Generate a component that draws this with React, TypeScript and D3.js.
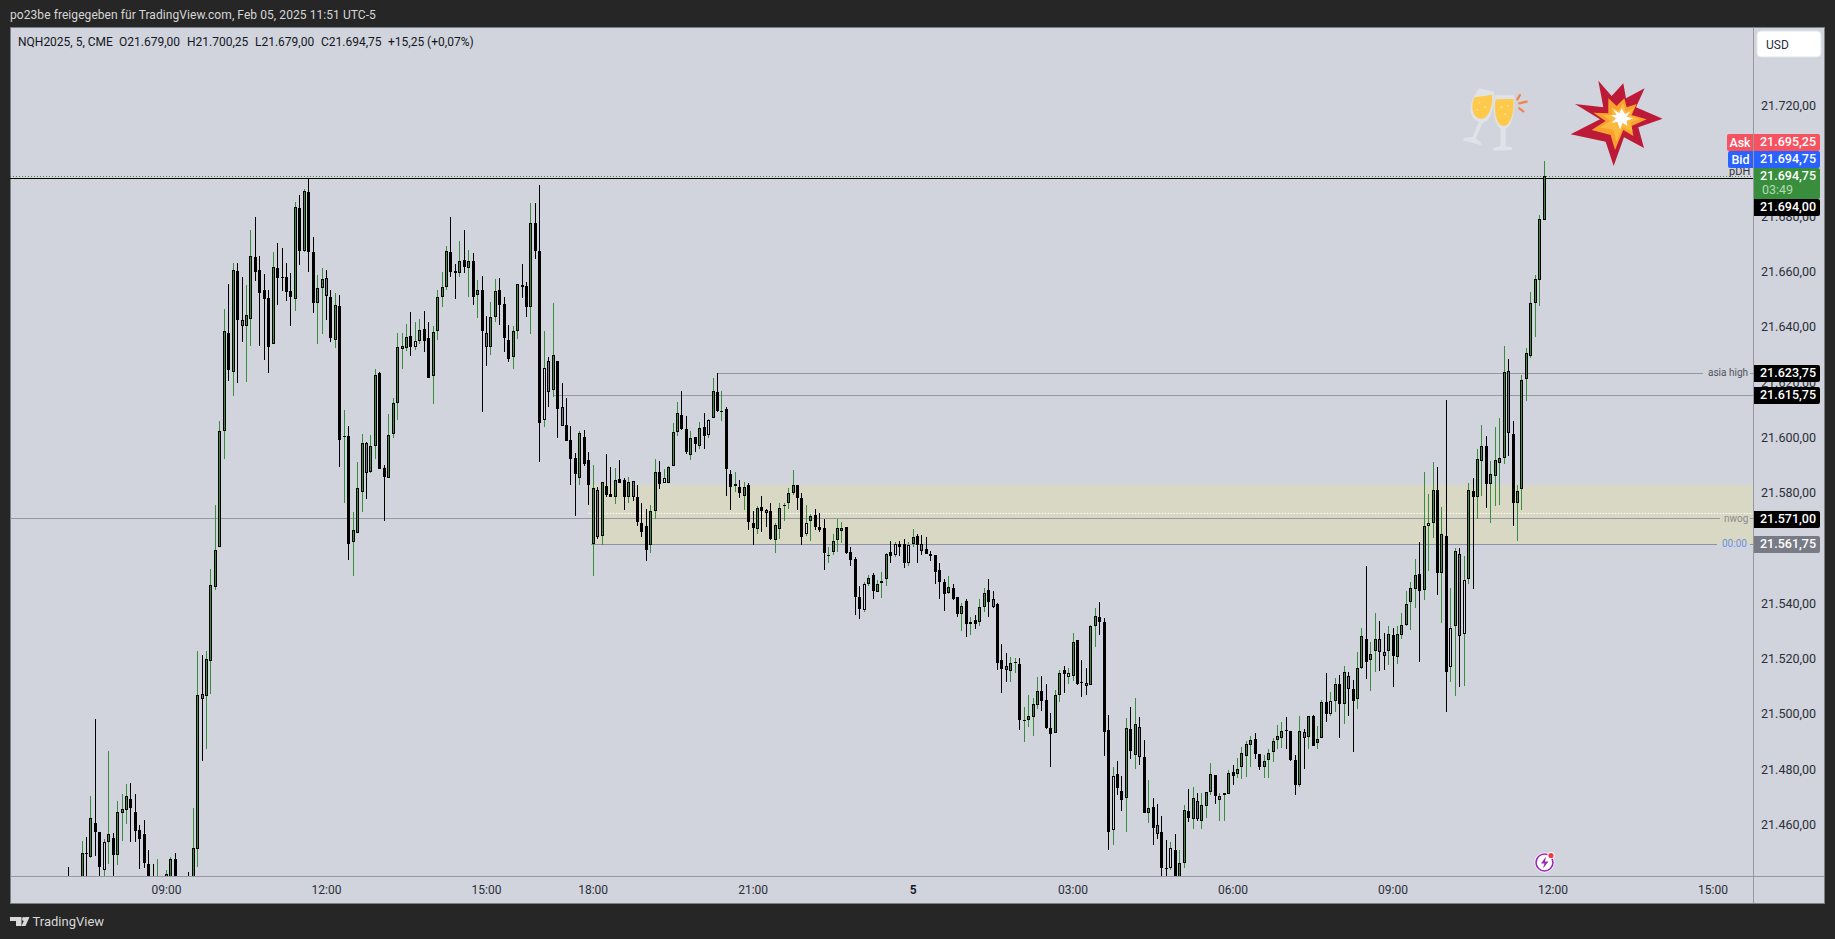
import * as d3 from 'd3';

const WIDTH = 1835;
const HEIGHT = 939;
const PANE = { left: 10, top: 27, right: 1824, bottom: 903, axisX: 1753, axisY: 876 };

const FONT = 'Roboto, "Noto Sans", sans-serif';
const UP = '#388e3c';
const DOWN = '#000000';
const GRAY_BODY = '#787b86';
const BG = '#d1d4dc';
const FRAME = '#262626';
const LEVEL = '#9598a1';

// Prices are points above this base as [open, high, low, close]
const PRICE_BASE = 21000;
const FIRST_BAR = -22; // bars are counted from the 09:00 label, 5 min each

type Bar = number[];

const barsBefore0900: Bar[] = [
  [440,444.9,434,437],[438,441,435,437],[437,440,434,439],[440,454.4,438,449.9],[450,455.8,438,449.75],
  [448.4,470.6,448,462.6],[460.8,498.4,449,457.4],[457.5,457.5,440,445],[443.7,455.1,440,453.9],[454.1,486.9,446,456.8],
  [455.3,457.3,440,449.4],[449.4,468.8,445.7,464.7],[464.6,471.2,454.4,465.8],[465.7,474.9,460.5,470.5],[469.4,475.2,453.8,466.4],
  [464.7,471.2,453.8,458.1],[458.2,460.2,444.3,455.2],[456.8,461.8,444.6,446.2],[446,451,438,440],[440,445.9,436,438],
  [436,447.8,435,440],[438,440,435,437],
];

const bars0900: Bar[] = [
  [438,443.9,436,442.3],[440,448.5,438,447.8],[447.8,449.9,436,438],[438,441,435,437],[437,440,435,439],
  [440,443.2,436,438],[440,466.2,437,451.7],[451.6,523.1,444.9,507],[507.4,521.5,483.4,505.8],[506.6,523.1,487.6,520],
  [519.6,552.7,507.5,546.8],[546.3,575.8,545.1,559.5],[560.8,606.1,560.8,602.5],[602.7,646.7,592.5,638.7],[638,655.7,620.8,624.5],
  [624.1,663.3,615.4,660.7],[660.4,663.3,620.1,642.9],[642.6,658.2,634.9,640.4],[640.4,655.4,620.5,644.4],[643.2,675.3,633.5,665.8],
  [665.4,680,657,660.2],[660.7,665.8,633.5,652.6],[653.5,659.3,628.3,650.5],[650.6,653.5,623.4,633.1],[634.2,667.2,634.2,661.8],
  [661.4,670.5,648,658.1],[658.3,668.7,653.4,658.1],[658.2,663.3,649.8,653],[653.1,659.6,640.7,651.2],[650.2,685.3,646.1,683.5],
  [683.1,687.8,662.8,667.8],[667.8,690,667.2,689.3],[688.9,694,660.1,667.5],[667.2,672.6,645.4,649],[649,658.9,634.2,654.2],
  [654.2,661.4,637.8,657.5],
];

const bars1200: Bar[] = [
  [657.8,660.7,642.9,651.3],[651,653.5,634.9,636.4],[635.4,652.4,632.8,648.1],[647.7,651.7,589.7,599.5],[600.3,610.2,576.7,600.7],
  [600.7,604.4,556.1,561.9],[562.6,573.3,550,566.7],[565.6,591.4,565.6,581.9],[580.7,601.5,573.4,598.1],[598.1,598.6,578.1,587.5],
  [587.9,601.1,587.5,597],[597.3,625,592.6,622.8],[623.5,624,589,589],[589.1,590.2,570.2,586.1],[585.7,608.7,585.7,601],
  [601.4,614.7,600.2,612.6],[612.9,638.2,606.6,632.9],[632.4,638,625.1,633.3],[632.8,641.3,631.6,636.5],[636.9,645.5,629.9,633.1],
  [633.1,641.9,631.9,635],[635.3,643.1,634.1,639],[639.4,645.9,631,635.3],[636.1,641.9,621.6,621.6],[622.6,640.6,612.4,638.3],
  [638.6,653.6,635.5,651],[651,660.1,647.6,654.6],[654.8,669.4,653.6,667.6],[667.2,680,658.4,660.2],[660.4,663,650.4,659.9],
  [659.9,671.3,658.4,664],[664.3,675.3,659.6,662],[661.4,668.1,651.2,664],[664,666.9,648.2,651.2],[651.7,657.2,643.3,653.5],
  [653.5,658.6,609.6,638.6],
];

const bars1500: Bar[] = [
  [638,644.1,626.1,632.9],[633.1,649.2,630.1,643.7],[644,657.5,642.2,653.1],[653.5,657.8,641,648],[648.4,651,631,636.4],
  [635.4,640.8,627.6,628.8],[629.5,640.5,625.1,638.7],[638.6,655.7,635.9,655.7],[655.3,663,650.7,654.8],[654.9,656.4,643.9,647.6],
  [647.6,685,637.8,677.7],[677.7,684.9,664.8,667.8],[667.6,691.6,591.5,605.6],[606.5,638.7,604.1,625.3],[627.8,629.2,611.4,616.8],
  [617.5,648.8,615,630],[627.8,627.8,600.2,610.4],[611.2,619.8,604.5,604.5],[604.7,614.4,599,599.1],[599.2,604.4,583.2,592.6],
  [592.7,594.5,572,587.2],[585.7,602.5,583.2,601.8],[600.3,602.8,590.1,590.8],[592,594.9,575.9,583.2],
];

const bars1800: Bar[] = [
  [561.9,590.2,550,581.9],[581.3,582.2,563.7,564.1],[564.8,584.1,561.5,584.1],[582.6,594.2,578.9,579.5],[579.7,589.5,578.9,578.9],
  [578.9,589.1,576.3,584.8],[585.1,592,583.7,583.7],[584.8,585.5,574.2,578.9],[578.9,585.9,576.7,584.1],[584.4,584.4,577.4,578.9],
  [578.6,583,568.4,569.8],[569.2,576.5,564.4,566.2],[568.2,574.5,555.7,559.4],[561.2,575.9,558.6,573.6],[573.5,592.4,570.6,587.7],
  [587.7,591.6,581.8,583.6],[583.7,588.8,583.7,585.5],[583.9,589.8,583.7,589.5],[589.8,605.4,589.8,602.1],[602.1,613.1,600.9,609],
  [608.3,617,602.9,603.2],[603.2,607.9,594.2,594.9],[594.1,602.5,592.2,600],[600.3,600.3,595.1,597.8],[597.3,605.7,596.2,603.6],
  [603.9,609,596.2,600.7],[601.3,606.8,600,606.5],[607.2,621.8,607.2,617],[616.6,623.75,609.4,609.7],[609.6,617,606.3,609.8],
  [610.4,611.2,579.2,589],[586.9,588.4,574.2,582.2],[582.6,587.7,580.7,583.3],[582.2,584.8,578.3,580.1],[579,584.1,574.2,582.2],
  [583,583.7,566.9,569.8],
];

const bars2100: Bar[] = [
  [569.2,573.8,561.5,567.7],[567.3,575.4,565.5,574.7],[575,579,566.2,573.8],[573.9,574.3,568,572.8],[573.6,576.5,563.3,563.7],
  [563.3,569.5,558.6,568.5],[567.3,576.5,563.7,574.7],[575.5,576.5,570.2,575.9],[576.5,581.9,574.4,580.1],[580.3,588.4,579.4,583],
  [583,583,573.9,578.2],[578.3,580.1,561.2,564.2],[565.3,575.9,564.8,569.2],[570.2,572.5,563,571.8],[572.1,574.3,566.9,568],
  [568,572.8,566.2,566.9],[567.4,570.7,552.5,558.6],[557.5,560.6,555,557.8],[559,565.3,557.8,562.7],[563.3,570.7,559,567.4],
  [566.6,569.6,562.2,567.4],[567.8,567.8,558.3,558.5],[558.8,560.6,553.9,556.1],[556.2,556.9,536,542.7],[542.6,546.6,534.6,538.4],
  [538,547.9,537,547.2],[547.2,550.6,546.6,549.4],[550.4,551.2,541.8,544.9],[544.5,548.6,544.5,547.2],[547.5,551.5,542.1,548.3],
  [548.9,558.4,546.7,558],[558.8,562.7,555,557.5],[557.9,562.4,557.2,561.6],[561.8,562.7,557.5,560.8],[561.6,563.5,553.2,554.7],
  [554.7,562.4,553.9,561.3],
];

const bars0000: Bar[] = [
  [561.6,567.1,560.8,564.2],[564.5,565.3,554.7,561.3],[561.6,565.1,557.9,559.3],[559.9,564.1,558.2,558.2],[558,559.1,555.7,557.5],
  [557.6,557.6,547.4,551.7],[552.2,554.7,542,547.9],[547.9,548.9,537.6,543.8],[544.1,550,543.5,546.1],[545.7,547.1,541.5,541.7],
  [542.4,542.4,535.5,536.5],[536.5,540.3,530.4,539.2],[541,541.7,528.2,532.7],[532.7,535.5,529,533.4],[534.1,536.2,530.9,532.7],
  [533.4,541.7,532.2,538.8],[539.1,545.7,537.3,543.9],[545,548.9,535.5,540.6],[541.7,544.6,538.5,538.8],[539.9,540.3,516.2,518.8],
  [519.7,525.5,508,516.4],[517.5,522.2,512,516.3],[515.7,520.8,512,518.6],[518.8,520.4,515,519.1],[518.2,520.4,494.3,498.2],
  [497.9,502.7,490.3,498.1],[498,507,495.7,499.4],[499.1,506.2,492.4,503.8],[503.4,513.5,502.2,508.5],[508.5,513.9,501.5,504.9],
  [505.2,511,494.7,495.1],[495.1,500.5,481.2,492.9],[493.3,508.8,493.3,507],[507,516,504.7,515],[516,517.6,508,514.6],
  [513.5,516.9,511,515],
];

const bars0300: Bar[] = [
  [513.9,529.6,512.3,526.2],[526.9,526.9,510.6,511],[511.7,519.7,506.3,511.5],[511.6,516.8,507,510.5],[510.6,532.3,510.6,532],
  [532,538.5,524.4,535.6],[535.2,540.6,528.8,533.4],[533.4,534.9,485.2,493.9],[494.4,499.8,451.2,457.7],[458.2,481,453,477.7],
  [478.5,483.2,470.9,473.4],[472.3,477.7,465,469.1],[469.8,498.7,457.7,495.1],[494.7,502.7,483.9,486.7],[485.6,505.9,480.5,496.5],
  [495.5,499.1,481.7,484.6],[484.6,490.9,464.4,464.4],[464.3,476.3,460.8,466.2],[466.5,469.8,453,459],[460,467.6,455,457],
  [457.5,463.3,441,444.7],[444.6,454.6,440,444.4],[444.7,454,443.9,451.7],[451,456.9,438,440],[440,451,438,446.3],
  [446.2,467.3,444.5,465.5],[465.1,473,461.1,462.7],[462.2,473.9,458.5,469.8],[468.7,471.6,461.4,462.2],[461.7,471.6,458.5,467.3],
  [466.9,472.1,462.8,472],[472,482.4,470.9,478.5],[478.1,478.1,467.6,470.5],[469,471.6,461.4,470.5],[470.8,471.6,461.4,471.6],
  [471.5,479.9,471.2,478.8],
];

const bars0600: Bar[] = [
  [479.2,481.7,474.4,477.7],[478.4,484.3,477,480.3],[481,488.2,476.7,486.1],[485.2,490.4,477.4,489.3],[489,492.3,481,490.8],
  [491.1,493.3,483.9,485.7],[485.7,485.7,479.9,481.2],[481,485.3,477,483.2],[483.5,487.5,477,486.1],[486.4,491.5,482.8,490.4],
  [490.8,496.2,487.5,492.2],[491.5,497.3,487.9,494],[494.4,499.1,487.5,494],[494,494,483.2,483.5],[483.5,485.3,470.9,474.7],
  [474.6,499.4,474,494],[493.7,494.7,480.5,491.7],[492.1,499.6,487.6,499.5],[499.5,499.8,488.8,488.8],[489.9,495.8,487.6,491.1],
  [491.6,505.2,491.6,504.5],[504.5,515,497.5,500.4],[500.4,508.1,499.6,504.9],[505.1,513.2,500.9,511],[511,514.4,491.6,503.7],
  [503.7,517.6,496.7,515.4],[513.9,515.4,499.6,509.2],[509.2,512.6,486.6,505.1],[505.8,522.7,502.1,516.8],[517,531.4,516.4,528.4],
  [527.3,553.7,513,519],[519.7,526.3,508.6,521.9],[523.2,536.7,515.5,527.3],[527.3,533.8,515.8,522.8],[522.6,529.6,516.2,521.4],
  [523.2,532.1,518,529.1],
];

const bars0900Next: Bar[] = [
  [528.7,531.4,510.1,521.4],[520.7,532.1,518.4,529.1],[528.8,536.7,527.5,532.4],[532.4,544.8,532,540],[540.6,547.9,530.7,545.8],
  [545.6,556.4,538.5,550.5],[550.8,562.4,519.1,544.6],[545,587.7,541.5,568.2],[568.4,579.9,552,569.3],[569.3,591.3,563.8,581.2],
  [581.2,589.5,543.4,551.4],[551.4,575.2,533.2,565.3],[564.6,613.8,501,515.6],[517.4,545.8,511.9,531.3],[531.9,560.2,506.8,559.1],
  [558,560.2,510.1,528.4],[529.1,557.3,510.5,548.7],[548.9,583.7,547.3,581.2],[580.8,585.5,545.5,578.7],[578.9,596,570.7,592.4],
  [591.7,604.7,579,597.1],[597.1,600.7,574.8,583.6],[583.6,591.7,569.4,587],[586.5,603.9,575.5,592],[591,607.2,575.9,592.8],
  [592.8,633.2,590.7,623.8],[624.2,628.5,593.6,601.7],[601.4,606.1,568.3,576.7],[576.5,583,562.9,580.8],[581.5,622.8,574.1,621],
  [621.5,632.5,613.5,630.7],[629.9,652.8,629.1,648.8],[649,658.9,636.6,657.5],[657.1,680.6,647.9,679.1],[679,700.25,679,694.75],
];

const allBars = [
  ...barsBefore0900, ...bars0900, ...bars1200, ...bars1500, ...bars1800,
  ...bars2100, ...bars0000, ...bars0300, ...bars0600, ...bars0900Next,
];

// low volume bars show a pale or gray body instead of green / black
const hollowBars = [-14, 56, 85, 112, 122, 128, 144, 157, 164, 167, 181, 203, 213, 226, 262, 284, 289, 292];
const grayBars = [8, 17, 36, 45, 72, 86, 89, 97, 105, 135, 170, 186, 189, 207, 219, 223, 232, 237, 256, 266, 273, 274, 291, 302];

const timeTickBars = [0, 36, 72, 96, 132, 168, 204, 240, 276, 312, 348];
const timeTickLabels = ['09:00', '12:00', '15:00', '18:00', '21:00', '5', '03:00', '06:00', '09:00', '12:00', '15:00'];
const priceTicks = [21720, 21680, 21660, 21640, 21620, 21600, 21580, 21540, 21520, 21500, 21480, 21460];

const PDH = 21694;
const ASK = 21695.25;
const BID = 21694.75;
const ASIA_HIGH = 21623.75;
const PREV_LEVEL = 21615.75;
const NWOG = 21571;
const ZONE_TOP = 21583.1;
const ZONE_BOTTOM = 21561.75;
const ZONE_MID = 21572.8;

const legendParts = ['NQH2025, 5, CME', 'O21.679,00', 'H21.700,25', 'L21.679,00', 'C21.694,75', '+15,25 (+0,07%)'];
const legendX = [18, 119, 187, 255, 321, 388];
const titleText = 'po23be freigegeben für TradingView.com, Feb 05, 2025 11:51 UTC-5';

const xScale = d3.scaleLinear().domain([0, 312]).range([166.5, 1553]);
const yScale = d3.scaleLinear().domain([21460, 21720]).range([825.3, 106.4]);
const deLocale = d3.formatLocale({ decimal: ',', thousands: '.', grouping: [3], currency: ['', ''] });
const fmtPrice = deLocale.format(',.2f');

const Candle = ({ bar, index }: { bar: Bar; index: number }) => {
  const [o, h, l, c] = bar.map((v) => v + PRICE_BASE);
  const cx = Math.floor(xScale(index));
  const rising = c >= o;
  const top = Math.round(yScale(Math.max(o, c)));
  const bottom = Math.round(yScale(Math.min(o, c)));
  const bodyH = Math.max(bottom - top, 1);
  const wickTop = Math.round(yScale(h));
  const wickBottom = Math.round(yScale(l));
  let inner: string | null = rising ? UP : null;
  if (hollowBars.includes(index)) inner = BG;
  if (grayBars.includes(index)) inner = GRAY_BODY;
  return (
    <g>
      <rect x={cx} y={wickTop} width={1} height={Math.max(wickBottom - wickTop, 1)} fill={rising ? UP : DOWN} />
      <rect x={cx - 1} y={top} width={3} height={bodyH} fill="#000" />
      {inner && bodyH > 2 && <rect x={cx} y={top + 1} width={1} height={bodyH - 2} fill={inner} />}
    </g>
  );
};

type TagProps = { y: number; h?: number; fill: string; text: string; sub?: string };

// price tag on the axis, with its own y because TradingView stacks them apart
const Tag = ({ y, h = 17, fill, text, sub }: TagProps) => (
  <g>
    <path
      d={`M${PANE.axisX + 1} ${y}H1818a2 2 0 0 1 2 2V${y + h - 2}a2 2 0 0 1 -2 2H${PANE.axisX + 1}Z`}
      fill={fill}
    />
    <text x={1788} y={y + 8} dy="0.35em" textAnchor="middle" fill="#fff" fontSize={12.5} fontWeight={500}>
      {text}
    </text>
    {sub && (
      <text x={1762} y={y + 21.5} dy="0.35em" fill="#b0dbb2" fontSize={12.5}>
        {sub}
      </text>
    )}
  </g>
);

const SideTab = ({ y, x, fill, text }: { y: number; x: number; fill: string; text: string }) => (
  <g>
    <path d={`M${PANE.axisX} ${y}H${x + 2}a2 2 0 0 0 -2 2V${y + 15}a2 2 0 0 0 2 2H${PANE.axisX}Z`} fill={fill} />
    <text x={(x + PANE.axisX) / 2} y={y + 8.5} dy="0.35em" textAnchor="middle" fill="#fff" fontSize={12.5} fontWeight={500}>
      {text}
    </text>
  </g>
);

const Level = ({ x1, x2, price, stroke = LEVEL }: { x1: number; x2: number; price: number; stroke?: string }) => {
  const y = Math.round(yScale(price)) + 0.5;
  return <line x1={x1} x2={x2} y1={y} y2={y} stroke={stroke} strokeWidth={1} />;
};

const Explosion = () => (
  <g transform="translate(1440,20) scale(0.3333)">
    <polygon fill="#bd1a38" points="475,182 515,228 550,190 558,235 614,205 588,262 668,296 595,322 612,384 552,352 521,438 497,365 392,343 480,298 405,252 490,262" />
    <polygon fill="#f9a12e" points="505,235 530,258 553,235 560,262 590,252 575,285 620,298 575,318 580,348 550,330 525,390 512,345 455,330 497,303 460,278 505,280" />
    <polygon fill="#ffce4f" points="515,262 535,272 550,250 558,275 580,265 570,288 600,297 572,308 578,335 548,322 530,365 520,330 480,322 512,302 488,285 518,285" opacity={0.55} />
    <polygon fill="#ffffff" points="520,268 538,280 545,265 555,282 570,275 560,290 580,295 560,302 562,318 548,308 540,328 532,305 515,310 528,295 512,285 530,285" />
  </g>
);

const Glasses = () => (
  <g transform="translate(1440,20) scale(0.3333)">
    <path fill="#dfe3e8" d="M118 205 L162 215 C165 265 150 305 128 308 L108 355 L122 368 L125 376 L68 361 L72 354 L98 350 L116 305 C90 298 78 255 118 205Z" />
    <path fill="#ffca4b" d="M103 232 L157 224 C158 262 145 295 125 297 C100 297 90 265 103 232Z" />
    <path fill="#dfe3e8" d="M165 226 L222 226 C228 275 214 322 197 325 L197 378 L215 382 L217 390 L160 392 L160 385 L182 378 L182 325 C165 320 156 270 165 226Z" />
    <path fill="#ffca4b" d="M167 238 L220 236 C224 275 212 318 190 318 C170 318 160 275 167 238Z" />
    <g fill="#ffe08a">
      <circle cx={118} cy={248} r={3} />
      <circle cx={135} cy={262} r={3} />
      <circle cx={112} cy={270} r={3} />
      <circle cx={185} cy={262} r={3} />
      <circle cx={205} cy={258} r={3} />
      <circle cx={195} cy={282} r={3} />
    </g>
    <g stroke="#f4844a" strokeWidth={7} strokeLinecap="round">
      <line x1={232} y1={238} x2={240} y2={225} />
      <line x1={238} y1={250} x2={260} y2={245} />
      <line x1={238} y1={265} x2={250} y2={274} />
    </g>
  </g>
);

const BoltBadge = () => (
  <g>
    <circle cx={1544.5} cy={862.5} r={10} fill="#fff" />
    <circle cx={1544.5} cy={862.5} r={8.5} fill="#fff" stroke="#9c27b0" strokeWidth={1.6} />
    <path d="M1546 856.5 L1541 863.5 H1544.5 L1543 868.5 L1548.5 861.5 H1545Z" fill="#9c27b0" />
    <circle cx={1551} cy={855.5} r={3.6} fill="#fff" />
    <circle cx={1551} cy={855.5} r={2.6} fill="#f23645" />
  </g>
);

const TvLogo = () => (
  <g fill="#d9d9d9">
    <path d="M10 917H21.5V926H16V921H10Z" />
    <circle cx={24} cy={919} r={2} />
    <path d="M25.5 917H29.5L25.5 926H21.5Z" />
  </g>
);

export default function App() {
  return (
    <svg
      width={WIDTH}
      height={HEIGHT}
      style={{ position: 'absolute', left: 0, top: 0, fontFamily: FONT }}
    >
      <defs>
        <clipPath id="plot">
          <rect x={PANE.left} y={PANE.top} width={PANE.axisX - PANE.left} height={PANE.axisY - PANE.top} />
        </clipPath>
      </defs>
      <rect width={WIDTH} height={HEIGHT} fill={FRAME} />
      <rect
        x={PANE.left + 0.5}
        y={PANE.top + 0.5}
        width={PANE.right - PANE.left}
        height={PANE.bottom - PANE.top}
        fill={BG}
        stroke="#7d7f86"
      />
      <text x={10} y={15} dy="0.35em" fill="#d6d6d6" fontSize={12} letterSpacing={0.07}>{titleText}</text>

      {/* zone and levels sit under the candles */}
      <rect
        x={xScale(96) - 2}
        y={yScale(ZONE_TOP)}
        width={PANE.axisX - xScale(96) + 2}
        height={yScale(ZONE_BOTTOM) - yScale(ZONE_TOP)}
        fill="#d8d8c4"
      />
      <Level x1={PANE.left} x2={1720} price={NWOG} />
      <Level x1={1750} x2={PANE.axisX} price={NWOG} />
      <Level x1={xScale(87)} x2={PANE.axisX} price={PREV_LEVEL} />
      <Level x1={xScale(124)} x2={1703} price={ASIA_HIGH} />
      <Level x1={1750} x2={PANE.axisX} price={ASIA_HIGH} />
      <Level x1={xScale(96) - 2} x2={1717} price={ZONE_BOTTOM} stroke="#8e90a6" />
      <Level x1={1750} x2={PANE.axisX} price={ZONE_BOTTOM} stroke="#8e90a6" />
      <line
        x1={xScale(95)}
        x2={PANE.axisX}
        y1={yScale(ZONE_MID)}
        y2={yScale(ZONE_MID)}
        stroke="#fff"
        strokeDasharray="1.5 1.5"
      />
      <g clipPath="url(#plot)">
        <line
          x1={PANE.left}
          x2={PANE.axisX}
          y1={Math.round(yScale(BID)) + 0.5}
          y2={Math.round(yScale(BID)) + 0.5}
          stroke={UP}
          strokeDasharray="1 2"
        />
        <line
          x1={PANE.left}
          x2={PANE.axisX}
          y1={Math.round(yScale(PDH)) + 0.5}
          y2={Math.round(yScale(PDH)) + 0.5}
          stroke="#000"
        />
        {allBars.map((bar, i) => (
          <Candle key={i} bar={bar} index={i + FIRST_BAR} />
        ))}
      </g>

      <text x={1708} y={yScale(ASIA_HIGH)} dy="0.35em" fill="#50535e" fontSize={10}>asia high</text>
      <text x={1724} y={yScale(NWOG)} dy="0.35em" fill="#8b8d8c" fontSize={10}>nwog</text>
      <text x={1722} y={yScale(ZONE_BOTTOM)} dy="0.35em" fill="#6f8fe8" fontSize={10}>00:00</text>
      <text x={1729} y={174.5} fill="#333" fontSize={11}>pDH</text>

      <Glasses />
      <Explosion />
      <BoltBadge />

      {/* axes */}
      <line x1={PANE.axisX + 0.5} x2={PANE.axisX + 0.5} y1={PANE.top} y2={PANE.bottom} stroke={LEVEL} />
      <line x1={PANE.left} x2={PANE.right} y1={PANE.axisY + 0.5} y2={PANE.axisY + 0.5} stroke={LEVEL} />
      {priceTicks.map((p) => (
        <text key={p} x={1788.5} y={yScale(p) - 0.7} dy="0.35em" textAnchor="middle" fill="#2a2e39" fontSize={12.5}>
          {fmtPrice(p)}
        </text>
      ))}
      {timeTickBars.map((b, i) => (
        <text
          key={b}
          x={xScale(b)}
          y={889.5}
          dy="0.35em"
          textAnchor="middle"
          fill={timeTickLabels[i] === '5' ? '#131722' : '#2a2e39'}
          fontWeight={timeTickLabels[i] === '5' ? 600 : 400}
          fontSize={12}
        >
          {timeTickLabels[i]}
        </text>
      ))}
      {legendParts.map((part, i) => (
        <text key={part} x={legendX[i]} y={41.5} dy="0.35em" fill="#131722" fontSize={12}>
          {part}
        </text>
      ))}

      <rect x={1757} y={31} width={64} height={26} rx={4} fill="#fff" stroke="#e4e6ec" />
      <text x={1766} y={44.5} dy="0.35em" fill="#2a2e39" fontSize={12}>USD</text>

      <Tag y={199} fill="#000" text={fmtPrice(PDH)} />
      <Tag y={134} fill="#f7525f" text={fmtPrice(ASK)} />
      <Tag y={151} fill="#2962ff" text={fmtPrice(BID)} />
      <Tag y={168} h={31} fill={UP} text={fmtPrice(BID)} sub="03:49" />
      <SideTab y={134} x={1727} fill="#f7525f" text="Ask" />
      <SideTab y={151} x={1728} fill="#2962ff" text="Bid" />
      <Tag y={365} fill="#000" text={fmtPrice(ASIA_HIGH)} />
      <Tag y={387} fill="#000" text={fmtPrice(PREV_LEVEL)} />
      <Tag y={511} fill="#000" text={fmtPrice(NWOG)} />
      <Tag y={536} fill={GRAY_BODY} text={fmtPrice(ZONE_BOTTOM)} />

      <TvLogo />
      <text x={32.5} y={921.5} dy="0.35em" fill="#d9d9d9" fontSize={13}>TradingView</text>
    </svg>
  );
}
